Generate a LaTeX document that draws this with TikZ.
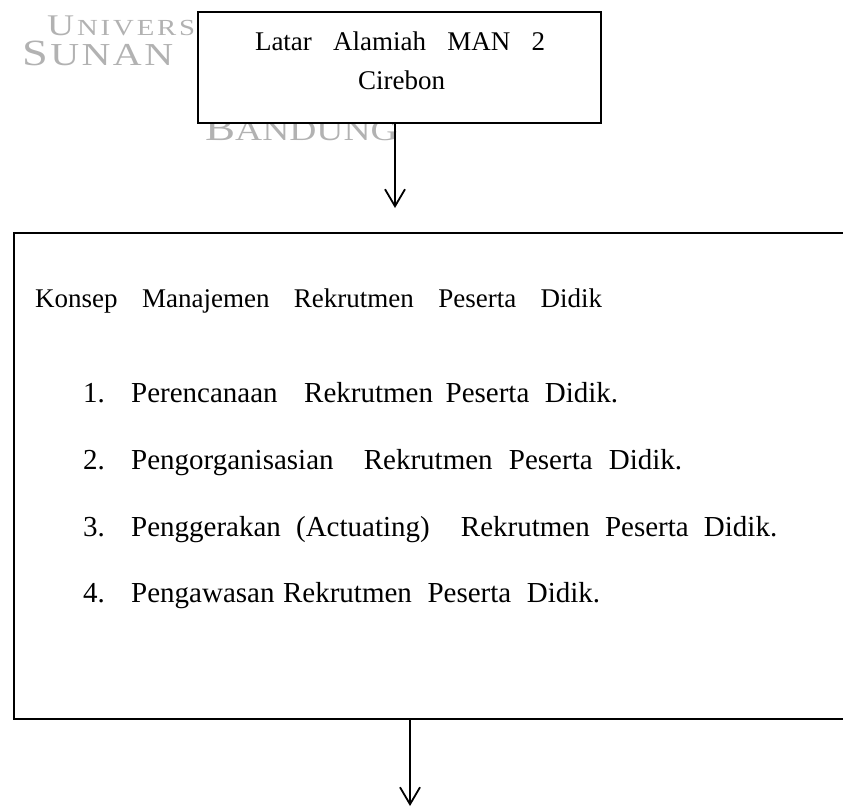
\documentclass[tikz,border=0pt]{standalone}
\usepackage{fontspec}
\usepackage{graphicx}
\setmainfont{Liberation Serif}
\usetikzlibrary{arrows.meta}
\newcommand\wmletter[2]{\scalebox{1.25}[1]{\fontsize{#1}{#1}\selectfont #2}}
\tikzset{
  boxline/.style={draw, line width=2.6pt, fill=white, inner sep=0pt},
  wm/.style={anchor=base west, inner sep=0pt, text=black!30},
  txt/.style={anchor=base west, inner sep=0pt, font=\fontsize{27}{32}\selectfont},
  itm/.style={anchor=base west, inner sep=0pt, font=\fontsize{29}{34}\selectfont},
  arr/.style={line width=1.6pt, -{Straight Barb[length=17pt,width=20pt,line width=1.8pt]}}
}
\begin{document}
\begin{tikzpicture}[x=1pt,y=-1pt]
\useasboundingbox (0,0) rectangle (843,807);
\clip (0,0) rectangle (843,807);
% watermark
\node[wm] (wmA) at (47,35) {\makebox[148pt][s]{\wmletter{30}{U}\hfill\wmletter{23}{N}\hfill\wmletter{23}{I}\hfill\wmletter{23}{V}\hfill\wmletter{23}{E}\hfill\wmletter{23}{R}\hfill\wmletter{23}{S}}};
\node[wm] (wmB) at (22,65) {\makebox[151pt][s]{\wmletter{37}{S}\hfill\wmletter{32}{U}\hfill\wmletter{32}{N}\hfill\wmletter{32}{A}\hfill\wmletter{32}{N}}};
\node[wm] (wmC) at (205,140) {\makebox[187pt][s]{\wmletter{36}{B}\hfill\wmletter{30}{A}\hfill\wmletter{30}{N}\hfill\wmletter{30}{D}\hfill\wmletter{30}{U}\hfill\wmletter{30}{N}\hfill\wmletter{30}{G}}};
% top box
\node[boxline, minimum width=403pt, minimum height=111pt] (top) at (399.5,67.5) {};
\node[txt, anchor=base] (topA) at (400,50) {\makebox[290pt][s]{Latar Alamiah MAN 2}};
\node[txt, anchor=base] (topB) at (401.5,89) {Cirebon};
% big box
\node[boxline, minimum width=846pt, minimum height=486pt] (big) at (437,476) {};
\node[txt] (konsep) at (35,307) {\makebox[567pt][s]{Konsep Manajemen Rekrutmen Peserta Didik}};
\node[itm] (n1) at (83,402) {1.};
\node[itm] (i1) at (131,402) {\makebox[487pt][s]{Perencanaan\hspace{14pt} Rekrutmen Peserta\hspace{3pt} Didik.}};
\node[itm] (n2) at (83,469) {2.};
\node[itm] (i2) at (131,469) {\makebox[551pt][s]{Pengorganisasian\hspace{14pt} Rekrutmen Peserta Didik.}};
\node[itm] (n3) at (83,536) {3.};
\node[itm] (i3) at (131,536) {\makebox[646pt][s]{Penggerakan (Actuating)\hspace{16pt} Rekrutmen Peserta Didik.}};
\node[itm] (n4) at (83,602) {4.};
\node[itm] (i4) at (131,602) {\makebox[469pt][s]{Pengawasan\hspace{-4pt} Rekrutmen\hspace{3pt} Peserta\hspace{3pt} Didik.}};
% arrows
\coordinate (e1) at (395,208);
\coordinate (e2) at (410,806);
\draw[arr] (top.south -| e1) -- (e1);
\draw[arr] (big.south -| e2) -- (e2);
\end{tikzpicture}
\end{document}
